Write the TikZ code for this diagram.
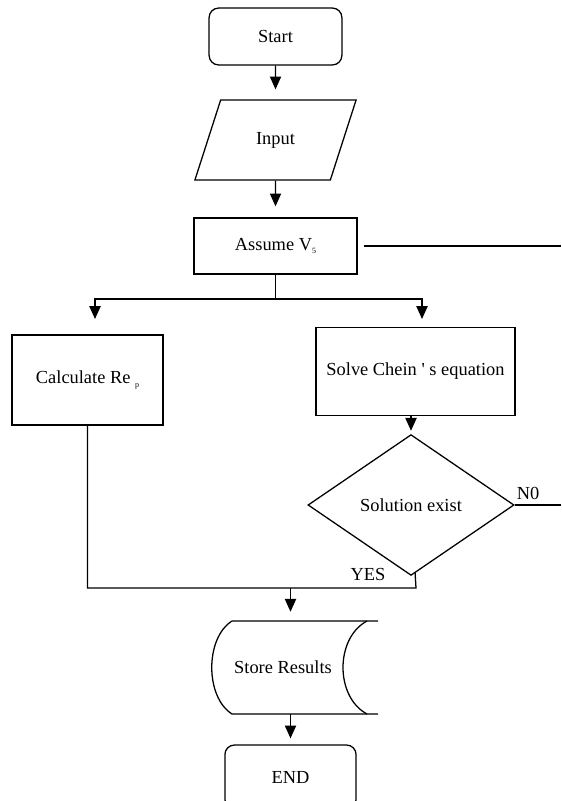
\documentclass[tikz,border=0pt]{standalone}
\usepackage{fontspec}
\setmainfont{Liberation Serif}[Ligatures=TeXOff]
\usepackage{xcolor}
\definecolor{cInk}{HTML}{000000}
\usepackage{tikz}
\usetikzlibrary{positioning,arrows.meta,shapes.geometric,calc}
\newcommand{\lowsub}[1]{\raisebox{-2pt}{\fontsize{5}{6}\selectfont #1}}
\tikzset{
  node-box/.style={draw=cInk,thick,align=center,inner sep=2pt,
    font=\fontsize{11.5}{14}\selectfont},
  node-term/.style={node-box,rounded corners=6pt},
  node-io/.style={node-box,trapezium,trapezium left angle=64.6,
    trapezium right angle=115.4,trapezium stretches=true},
  node-cond/.style={node-box,diamond,inner sep=0pt},
  node-store/.style={align=center,inner sep=0pt,
    font=\fontsize{11.5}{14}\selectfont},
  node-label/.style={inner sep=0pt,font=\fontsize{11.5}{14}\selectfont},
  arrow/.style={-{Triangle[length=8pt,width=7pt]},thick,draw=cInk},
  wire/.style={thick,draw=cInk},
}

\begin{document}
\begin{tikzpicture}[x=0.625pt,y=-0.625pt]
  \clip (0,0) rectangle (561,801);
  \node[node-term,minimum width=83pt,minimum height=35.6pt]  (start)  at (275.5,36.5) {Start};
  \node[node-io,minimum width=101pt,minimum height=50pt]     (input)  at (275.5,140)  {Input};
  \node[node-box,minimum width=102pt,minimum height=35pt]    (assume) at (275.5,246)  {Assume V\lowsub{5}};
  \node[node-box,minimum width=94.4pt,minimum height=56.3pt] (calc)   at (87.5,380)   {Calculate Re \lowsub{p}};
  \node[node-box,minimum width=124.4pt,minimum height=55pt]  (solve)  at (415.5,371.5) {Solve Chein ' s equation};
  \node[node-cond,minimum width=128.8pt,minimum height=88pt] (exist)  at (411,505)    {Solution exist};
  \node[node-store,minimum width=60pt,minimum height=58.1pt] (store)  at (283,667.5)  {Store Results};
  \node[node-term,minimum width=82pt,minimum height=40pt]    (end)    at (290.5,777)  {END};
  \node[node-label] (no)  at (528,493) {N0};
  \node[node-label] (yes) at (368,574) {YES};
  % store symbol: convex left side, concave right side
  \draw[wire] (378,621) -- (232,621) .. controls (205,638) and (205,697) .. (232,714) -- (378,714);
  \draw[wire] (367,621) .. controls (335,638) and (335,697) .. (367,714);
  \coordinate (split)   at (275.5,299);
  \coordinate (calcin)  at (95,319);
  \coordinate (solvein) at (422,319);
  \coordinate (merge)   at (416,588);
  \coordinate (storein) at (290.5,588);
  \coordinate (loopR)   at (561,246);
  \coordinate (noR)     at (561,505);
  \draw[arrow,shorten >=6.25pt] (start) -- (input);
  \draw[arrow,shorten >=6.9pt]  (input) -- (assume);
  \draw[wire] (assume) -- (split);
  \draw[arrow] (split) -| (calcin);
  \draw[arrow] (split) -| (solvein);
  \draw[wire,shorten <=4pt] (assume) -- (loopR);
  \draw[arrow,shorten >=2pt] (solve.south -| exist) -- (exist);
  \draw[wire] (exist) -- (noR);
  \draw[wire] (calc.south) |- (merge) -- (exist);
  \draw[arrow,shorten >=5.6pt] (storein) -- (storein |- store.north);
  \draw[arrow,shorten >=3.75pt] (store.south -| end) -- (end);
\end{tikzpicture}
\end{document}
